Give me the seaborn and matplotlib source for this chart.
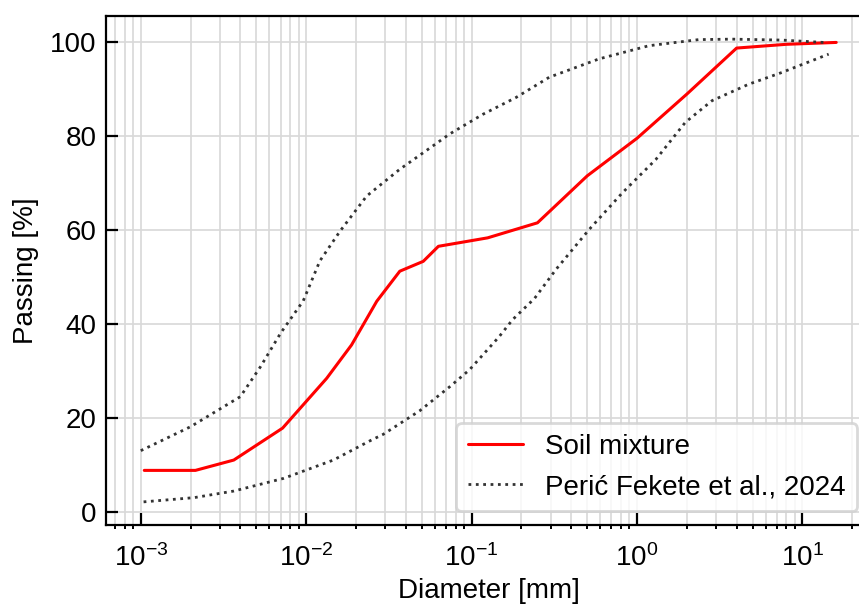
import matplotlib
matplotlib.use("Agg")
import matplotlib.pyplot as plt
import seaborn as sns
import numpy as np
import pandas as pd

# Soil mixture (red line)
soil_d = [0.00105, 0.00214, 0.00365, 0.0072, 0.0133, 0.0188, 0.0267, 0.0368,
          0.051, 0.063, 0.125, 0.25, 0.5, 1.0, 2.0, 4.0, 8.0, 16.0]
soil_p = [8.9, 8.9, 11.1, 17.9, 28.5, 35.6, 44.9, 51.3,
          53.4, 56.6, 58.4, 61.6, 71.6, 79.6, 89.0, 98.8, 99.6, 100.0]

# Perić Fekete et al., 2024 - upper envelope
upper_d = [0.001, 0.002, 0.004, 0.0053, 0.007, 0.0096, 0.0121,
           0.016, 0.0232, 0.0368, 0.0585, 0.0736, 0.117, 0.186, 0.295,
           0.59, 1.18, 2.36, 3.75, 7.5, 13.4]
upper_p = [13.1, 18.2, 24.6, 31.0, 38.1, 45.0, 53.5,
           59.8, 67.3, 73.0, 78.0, 80.5, 84.7, 88.3, 92.6,
           96.5, 99.3, 100.6, 100.7, 100.5, 100.0]

# Perić Fekete et al., 2024 - lower envelope
lower_d = [0.00104, 0.0021, 0.00365, 0.0073, 0.0146, 0.0243, 0.0293, 0.0486,
           0.0737, 0.097, 0.117, 0.147, 0.177, 0.24, 0.324, 0.514, 0.816,
           1.30, 1.96, 2.84, 4.73, 7.5, 9.46, 14.4]
lower_p = [2.2, 3.1, 4.5, 7.2, 11.1, 15.2, 16.6, 21.6,
           26.7, 30.3, 33.5, 37.4, 41.0, 45.5, 51.7, 60.2, 68.0,
           75.1, 83.0, 87.6, 91.1, 93.6, 95.0, 97.5]

sns.set_style("ticks")
plt.rcParams["font.family"] = ["Liberation Sans", "DejaVu Sans"]
plt.rcParams["mathtext.default"] = "regular"
plt.rcParams["font.size"] = 10
plt.rcParams["text.color"] = "black"
plt.rcParams["axes.labelcolor"] = "black"
plt.rcParams["xtick.color"] = "black"
plt.rcParams["ytick.color"] = "black"

fig = plt.figure(figsize=(859 / 200, 604 / 200), dpi=200)
ax = fig.add_axes([106 / 859, 79 / 604, (871 - 106) / 859, (525 - 16) / 604])

df_soil = pd.DataFrame({"d": soil_d, "p": soil_p})
df_up = pd.DataFrame({"d": upper_d, "p": upper_p})
df_lo = pd.DataFrame({"d": lower_d, "p": lower_p})

sns.lineplot(data=df_soil, x="d", y="p", ax=ax, color="red", linewidth=1.1,
             label="Soil mixture", sort=False)
sns.lineplot(data=df_up, x="d", y="p", ax=ax, color="#333333", linewidth=1.0,
             linestyle=":", label="Perić Fekete et al., 2024", sort=False)
sns.lineplot(data=df_lo, x="d", y="p", ax=ax, color="#333333", linewidth=1.0,
             linestyle=":", sort=False)

ax.set_xscale("log")
ax.set_yticks([0, 20, 40, 60, 80, 100])
ax.grid(True, which="major", axis="both", color="#d8d8d8", linewidth=0.6)
ax.grid(True, which="minor", axis="x", color="#d8d8d8", linewidth=0.6)
ax.set_axisbelow(True)

ax.tick_params(which="major", direction="in", length=4.3, width=0.8,
               labelsize=10, colors="black")
ax.tick_params(which="major", axis="x", pad=7)
ax.tick_params(which="minor", axis="x", direction="out", length=1.6, width=0.7,
               colors="black")
for sp in ax.spines.values():
    sp.set_linewidth(0.8)
    sp.set_color("black")

ax.set_xlabel("Diameter [mm]", fontsize=10, labelpad=2)
ax.set_ylabel("Passing [%]", fontsize=10)

ax.legend(loc="lower right", fontsize=10, frameon=True, edgecolor="#d0d0d0")

fig.savefig("out.png", dpi=200)
